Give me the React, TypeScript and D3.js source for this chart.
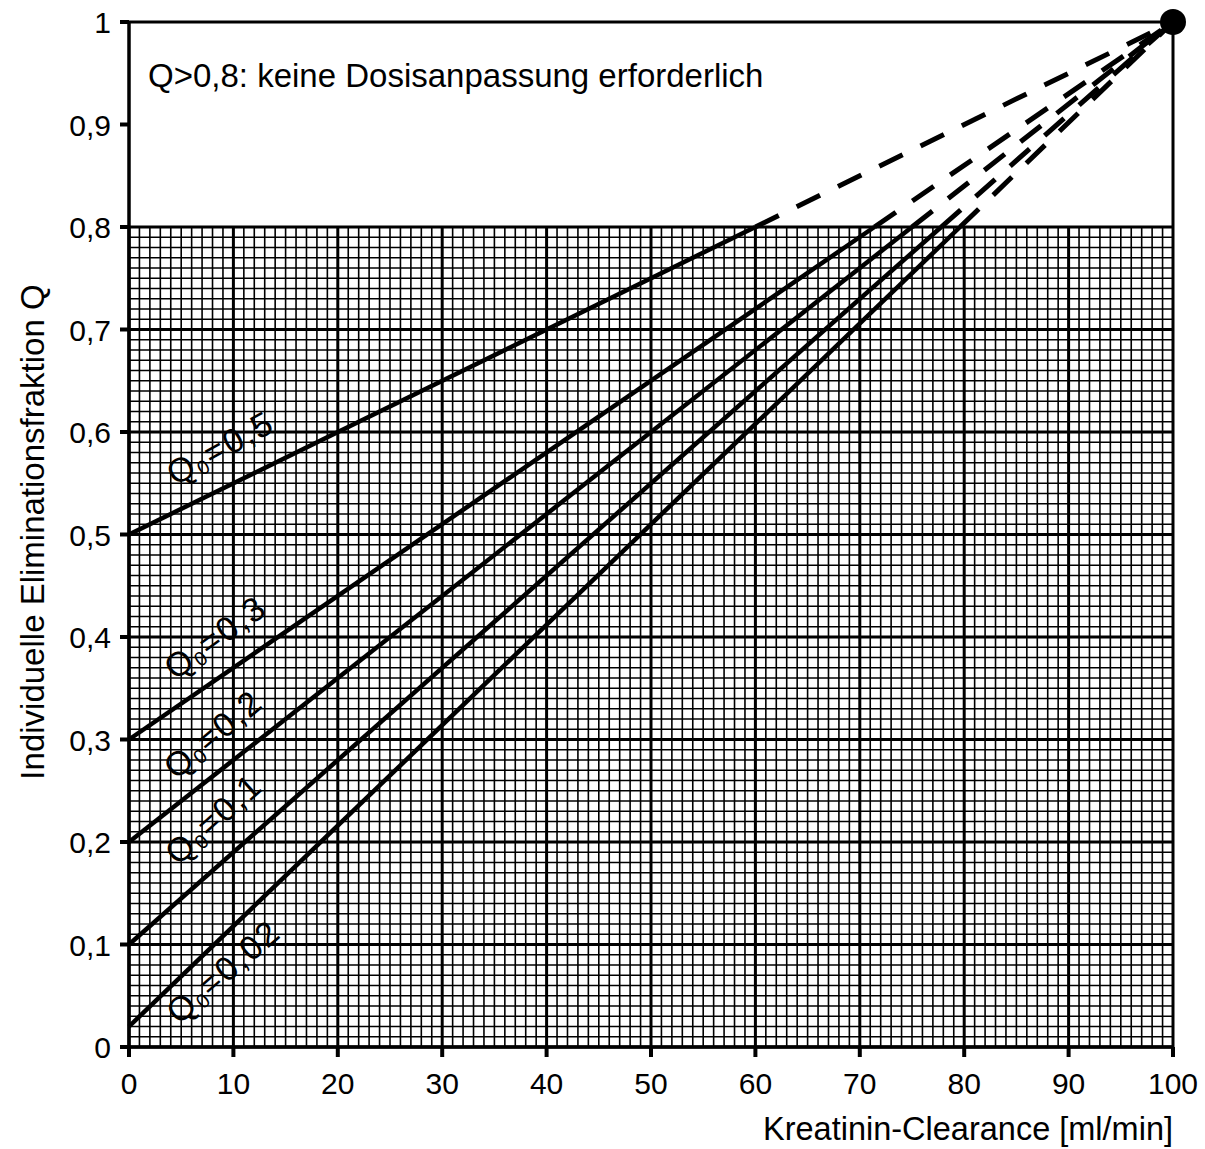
import { useEffect, useRef } from 'react';
import * as d3 from 'd3';

// Q0 values of the five lines, and where each one crosses Q = 0,8
const q0Values = [0.5, 0.3, 0.2, 0.1, 0.02];
const crossX = [60, 71.4, 75, 77.8, 79.6];
const limitQ = 0.8;
const endPoint = { x: 100, q: 1 };

// labels along the lines: value text, anchor in data units, angle in degrees
const labelTexts = ['0,5', '0,3', '0,2', '0,1', '0,02'];
const labelAnchors = [
  { x: 4.4, q: 0.547, angle: 29 },
  { x: 4.4, q: 0.357, angle: 36 },
  { x: 4.5, q: 0.26, angle: 40 },
  { x: 4.7, q: 0.176, angle: 42 },
  { x: 4.8, q: 0.021, angle: 41 },
];

const xTicks = [0, 10, 20, 30, 40, 50, 60, 70, 80, 90, 100];
const yTicks = [0, 0.1, 0.2, 0.3, 0.4, 0.5, 0.6, 0.7, 0.8, 0.9, 1];
const yTickLabels = ['0', '0,1', '0,2', '0,3', '0,4', '0,5', '0,6', '0,7', '0,8', '0,9', '1'];

const noteText = 'Q>0,8: keine Dosisanpassung erforderlich';
const xTitle = 'Kreatinin-Clearance [ml/min]';
const yTitle = 'Individuelle Eliminationsfraktion Q';

const App = () => {
  const svgRef = useRef<SVGSVGElement | null>(null);

  useEffect(() => {
    if (!svgRef.current) return;
    const svg = d3.select(svgRef.current);
    svg.selectAll('*').remove();

    const x = d3.scaleLinear().domain([0, 100]).range([129, 1173]);
    const y = d3.scaleLinear().domain([0, 1]).range([1047, 22]);
    const font = 'Liberation Sans, Arial, sans-serif';

    svg.append('rect').attr('width', 1205).attr('height', 1149).attr('fill', '#fff');

    // millimetre-paper grid below Q = 0,8
    const grid = svg.append('g');
    d3.range(0, 101).forEach((v) => {
      if (v % 10 === 0) return;
      grid.append('line')
        .attr('x1', x(v)).attr('x2', x(v))
        .attr('y1', y(0)).attr('y2', y(limitQ))
        .attr('stroke', '#000').attr('stroke-width', 1.6);
    });
    d3.range(0, 81).forEach((i) => {
      if (i % 10 === 0) return;
      grid.append('line')
        .attr('x1', x(0)).attr('x2', x(100))
        .attr('y1', y(i / 100)).attr('y2', y(i / 100))
        .attr('stroke', '#000').attr('stroke-width', 1.6);
    });
    xTicks.forEach((v) => {
      grid.append('line')
        .attr('x1', x(v)).attr('x2', x(v))
        .attr('y1', y(0)).attr('y2', y(limitQ))
        .attr('stroke', '#000').attr('stroke-width', 3);
    });
    yTicks.filter((v) => v <= limitQ + 1e-9).forEach((v) => {
      grid.append('line')
        .attr('x1', x(0)).attr('x2', x(100))
        .attr('y1', y(v)).attr('y2', y(v))
        .attr('stroke', '#000').attr('stroke-width', 3);
    });

    // frame of the upper area
    svg.append('path')
      .attr('d', `M${x(0)},${y(1)}H${x(100)}V${y(limitQ)}`)
      .attr('fill', 'none').attr('stroke', '#000').attr('stroke-width', 3);
    svg.append('line')
      .attr('x1', x(0)).attr('x2', x(0)).attr('y1', y(0)).attr('y2', y(1))
      .attr('stroke', '#000').attr('stroke-width', 3.5);
    svg.append('line')
      .attr('x1', x(0)).attr('x2', x(100)).attr('y1', y(0)).attr('y2', y(0))
      .attr('stroke', '#000').attr('stroke-width', 3.5);

    // ticks and tick labels
    yTicks.forEach((v, i) => {
      svg.append('line')
        .attr('x1', x(0) - 9).attr('x2', x(0))
        .attr('y1', y(v)).attr('y2', y(v))
        .attr('stroke', '#000').attr('stroke-width', 4);
      svg.append('text')
        .attr('x', x(0) - 18).attr('y', y(v) + 11)
        .attr('text-anchor', 'end')
        .attr('font-family', font).attr('font-size', 30)
        .text(yTickLabels[i]);
    });
    xTicks.forEach((v) => {
      svg.append('line')
        .attr('x1', x(v)).attr('x2', x(v))
        .attr('y1', y(0)).attr('y2', y(0) + 10)
        .attr('stroke', '#000').attr('stroke-width', 4);
      svg.append('text')
        .attr('x', x(v)).attr('y', 1094)
        .attr('text-anchor', 'middle')
        .attr('font-family', font).attr('font-size', 30)
        .text(String(v));
    });

    // lines: solid up to Q = 0,8, dashed up to the end point
    const line = d3.line<[number, number]>().x((d) => x(d[0])).y((d) => y(d[1]));
    q0Values.forEach((q0, i) => {
      svg.append('path')
        .attr('d', line([[0, q0], [crossX[i], limitQ]]))
        .attr('fill', 'none').attr('stroke', '#000').attr('stroke-width', 4.5);
      svg.append('path')
        .attr('d', line([[crossX[i], limitQ], [endPoint.x, endPoint.q]]))
        .attr('fill', 'none').attr('stroke', '#000').attr('stroke-width', 5)
        .attr('stroke-dasharray', '26 20');
    });

    svg.append('circle')
      .attr('cx', x(endPoint.x)).attr('cy', y(endPoint.q)).attr('r', 13)
      .attr('fill', '#000');

    // line labels
    labelAnchors.forEach((a, i) => {
      const t = svg.append('text')
        .attr('transform', `translate(${x(a.x)},${y(a.q)}) rotate(${-a.angle})`)
        .attr('font-family', font).attr('font-size', 34)
        .attr('letter-spacing', 2)
        .attr('fill', '#000');
      t.append('tspan').text('Q');
      t.append('tspan').attr('font-size', 20).attr('dy', 4).text('0');
      t.append('tspan').attr('dy', -4).text('=' + labelTexts[i]);
    });

    svg.append('text')
      .attr('x', 148).attr('y', 87)
      .attr('font-family', font).attr('font-size', 33)
      .text(noteText);

    svg.append('text')
      .attr('x', 1173).attr('y', 1140)
      .attr('text-anchor', 'end')
      .attr('font-family', font).attr('font-size', 32.5)
      .text(xTitle);

    svg.append('text')
      .attr('transform', `translate(44,532) rotate(-90)`)
      .attr('text-anchor', 'middle')
      .attr('font-family', font).attr('font-size', 33)
      .text(yTitle);
  }, []);

  return (
    <svg
      ref={svgRef}
      width={1205}
      height={1149}
      style={{ position: 'absolute', left: 0, top: 0, display: 'block' }}
    />
  );
};

export default App;
